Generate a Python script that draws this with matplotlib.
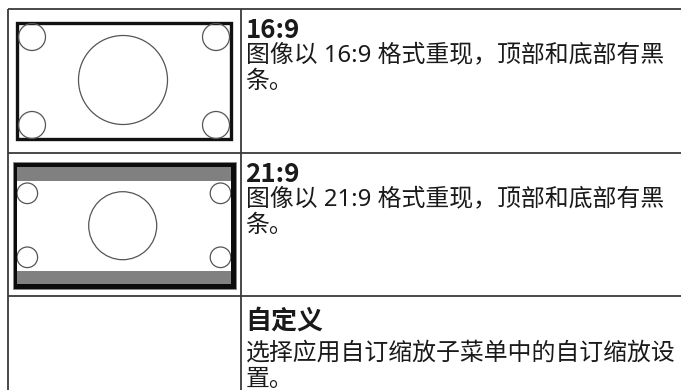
import matplotlib
matplotlib.use("Agg")
import matplotlib.pyplot as plt
from matplotlib.patches import Rectangle, Circle

# ---- content ----
titles = ["16:9", "21:9", "自定义"]
body_lines = [
    ["图像以 16:9 格式重现，顶部和底部有黑", "条。"],
    ["图像以 21:9 格式重现，顶部和底部有黑", "条。"],
    ["选择应用自订缩放子菜单中的自订缩放设", "置。"],
]

W, H = 681, 390
fig = plt.figure(figsize=(W / 100, H / 100), dpi=100)
ax = fig.add_axes([0, 0, 1, 1])
ax.set_xlim(0, W)
ax.set_ylim(H, 0)
ax.axis('off')

line_col = '#3a3a3a'
text_col = '#1a1a1a'

# table grid
row_tops = [8.5, 152.5, 296]
col_x = [7.5, 241]
for y in row_tops:
    ax.plot([col_x[0], W], [y, y], color=line_col, lw=1.3, solid_capstyle='butt')
for x in col_x:
    ax.plot([x, x], [row_tops[0], H], color=line_col, lw=1.3, solid_capstyle='butt')

# ---- row 1 picture: 16:9 ----
ax.add_patch(Rectangle((16.5, 23), 214.5, 115.5, fill=False, ec='#111111', lw=2.4))
circ_kw = dict(fill=False, ec='#555555', lw=0.9)
ax.add_patch(Circle((123, 80), 44.5, **circ_kw))
for cx, cy in [(32, 37), (216, 37), (32, 125), (216, 125)]:
    ax.add_patch(Circle((cx, cy), 13.5, **circ_kw))

# ---- row 2 picture: 21:9 ----
ax.add_patch(Rectangle((12.5, 161.5), 223, 127, fc='#0c0c0c', ec='#888888', lw=0.6))
ax.add_patch(Rectangle((17, 166.5), 213.8, 117.5, fc='#808080', ec='none'))
inner = Rectangle((17, 180.7), 213.8, 90.3, fc='white', ec='none')
ax.add_patch(inner)
ax.add_patch(Circle((122.7, 225.7), 34, **circ_kw))
for cx, cy in [(27.3, 193.3), (220.5, 193.3), (27.3, 257.3), (220.5, 257.3)]:
    cc = Circle((cx, cy), 10.3, **circ_kw)
    ax.add_patch(cc)
    cc.set_clip_path(inner)

# ---- text ----
title_base = [37.5, 181.5, 328.5]
body_base = [[61, 88.5], [205, 232.5], [359.5, 386]]
tx = 245.5
for i in range(3):
    ax.text(tx, title_base[i], titles[i], fontsize=18.7, fontweight='bold',
            family=['Noto Sans CJK SC', 'DejaVu Sans'],
            color=text_col, va='baseline', ha='left')
    for j, ln in enumerate(body_lines[i]):
        ax.text(tx, body_base[i][j], ln, fontsize=17.2, color=text_col,
                family=['Noto Sans', 'Noto Sans CJK SC', 'DejaVu Sans'],
                va='baseline', ha='left')

fig.savefig('out.png', dpi=100, facecolor='white')
